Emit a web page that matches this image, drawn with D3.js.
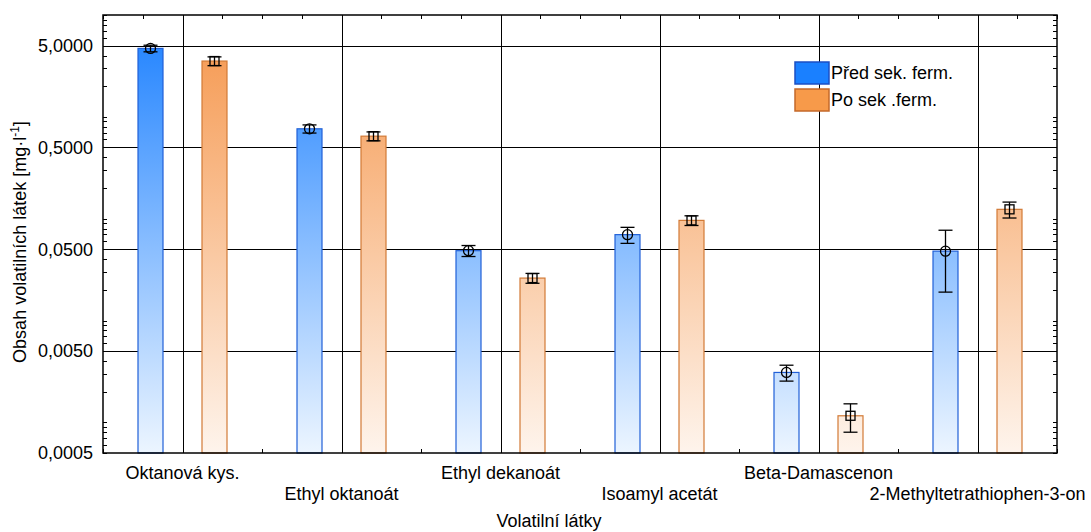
<!DOCTYPE html>
<html>
<head>
<meta charset="utf-8">
<script src="https://cdn.jsdelivr.net/npm/d3@7/dist/d3.min.js"></script>
<style>
  html, body { margin: 0; padding: 0; background: #fff; }
  svg { display: block; font-family: "Liberation Sans", Arial, sans-serif; }
</style>
</head>
<body>
<svg id="chart" width="1091" height="532"></svg>
<script>
// Volatile compounds, before / after secondary fermentation (mg/l, mean ± error)
const categories = [
  "Oktanová kys.", "Ethyl oktanoát", "Ethyl dekanoát",
  "Isoamyl acetát", "Beta-Damascenon", "2-Methyltetrathiophen-3-on"
];
const beforeMeans  = [4.70, 0.763, 0.0485, 0.0697, 0.00309, 0.0480];
const beforeErrors = [0.35, 0.070, 0.0060, 0.0125, 0.00055, 0.0290];
const afterMeans   = [3.53, 0.646, 0.0261, 0.0962, 0.00116, 0.1235];
const afterErrors  = [0.35, 0.065, 0.0029, 0.0105, 0.00036, 0.0220];
const seriesNames  = ["Před sek. ferm.", "Po sek .ferm."];
const yTickValues  = [0.0005, 0.005, 0.05, 0.5, 5];
const yDomain      = [0.0005, 10];

(function () {
const svg = d3.select("#chart");
const pLeft = 103, pRight = 1057, pTop = 15, pBottom = 453;
const fontSize = 18;

const x = d3.scaleLinear().domain([0.5, categories.length + 0.5]).range([pLeft, pRight]);
const y = d3.scaleLog().domain(yDomain).range([pBottom, pTop]);

// vertical gradients spanning the whole plot height
const defs = svg.append("defs");
function gradient(id, c0, c1) {
  const g = defs.append("linearGradient").attr("id", id)
    .attr("gradientUnits", "userSpaceOnUse")
    .attr("x1", 0).attr("x2", 0).attr("y1", pTop).attr("y2", pBottom);
  g.append("stop").attr("offset", 0).attr("stop-color", c0);
  g.append("stop").attr("offset", 1).attr("stop-color", c1);
}
gradient("gBlue", "#1a7fff", "#ecf5ff");
gradient("gOrange", "#f5954a", "#fef4ec");

const series = [
  { name: seriesNames[0], means: beforeMeans, errors: beforeErrors, offset: -32,
    fill: "url(#gBlue)", stroke: "#2160d8", legendFill: "#1a80ff", legendStroke: "#1b4fc4", marker: "circle" },
  { name: seriesNames[1], means: afterMeans, errors: afterErrors, offset: 32,
    fill: "url(#gOrange)", stroke: "#d27a36", legendFill: "#f79a4a", legendStroke: "#c4682a", marker: "square" }
];

// grid lines
const grid = svg.append("g").attr("stroke", "#000").attr("stroke-width", 1).attr("shape-rendering", "crispEdges");
grid.selectAll(".hg").data(yTickValues.slice(1)).join("line")
  .attr("x1", pLeft).attr("x2", pRight)
  .attr("y1", d => Math.round(y(d)) + 0.5).attr("y2", d => Math.round(y(d)) + 0.5);
grid.selectAll(".vg").data(d3.range(1, categories.length + 1)).join("line")
  .attr("y1", pTop).attr("y2", pBottom)
  .attr("x1", d => Math.round(x(d)) + 0.5).attr("x2", d => Math.round(x(d)) + 0.5);

// minor / major tick marks on all four sides, pointing inward
const logTicks = [];
for (let e = -4; e <= 1; e++) {
  for (let k = 1; k <= 9; k++) {
    const v = k * Math.pow(10, e);
    if (v >= yDomain[0] - 1e-12 && v <= yDomain[1] + 1e-12) logTicks.push(v);
  }
}
const tickG = svg.append("g").attr("stroke", "#000").attr("stroke-width", 1).attr("shape-rendering", "crispEdges");
tickG.selectAll(".lt").data(logTicks).join("line")
  .attr("x1", pLeft).attr("x2", pLeft + 4)
  .attr("y1", d => Math.round(y(d)) + 0.5).attr("y2", d => Math.round(y(d)) + 0.5);
tickG.selectAll(".rt").data(logTicks).join("line")
  .attr("x1", pRight - 4).attr("x2", pRight)
  .attr("y1", d => Math.round(y(d)) + 0.5).attr("y2", d => Math.round(y(d)) + 0.5);
const xTicks = d3.range(0.5, categories.length + 0.5 + 0.001, 0.25);
tickG.selectAll(".bt").data(xTicks).join("line")
  .attr("y1", pBottom - 4).attr("y2", pBottom)
  .attr("x1", d => Math.round(x(d)) + 0.5).attr("x2", d => Math.round(x(d)) + 0.5);
tickG.selectAll(".tt").data(xTicks).join("line")
  .attr("y1", pTop).attr("y2", pTop + 4)
  .attr("x1", d => Math.round(x(d)) + 0.5).attr("x2", d => Math.round(x(d)) + 0.5);

// bars
const barW = 25;
series.forEach(s => {
  svg.append("g").selectAll("rect").data(s.means).join("rect")
    .attr("x", (d, i) => x(i + 1) + s.offset - barW / 2)
    .attr("y", d => y(d))
    .attr("width", barW)
    .attr("height", d => pBottom - y(d))
    .attr("fill", s.fill)
    .attr("stroke", s.stroke)
    .attr("stroke-width", 1.2);
});

// error bars with markers at the mean
series.forEach(s => {
  const g = svg.append("g").attr("stroke", "#000").attr("stroke-width", 1.3).attr("fill", "none");
  s.means.forEach((m, i) => {
    const cx = x(i + 1) + s.offset;
    const hi = y(m + s.errors[i]), lo = y(m - s.errors[i]);
    g.append("line").attr("x1", cx).attr("x2", cx).attr("y1", hi).attr("y2", lo);
    g.append("line").attr("x1", cx - 7).attr("x2", cx + 7).attr("y1", hi).attr("y2", hi);
    g.append("line").attr("x1", cx - 7).attr("x2", cx + 7).attr("y1", lo).attr("y2", lo);
    if (s.marker === "circle") {
      g.append("circle").attr("cx", cx).attr("cy", y(m)).attr("r", 5);
    } else {
      g.append("rect").attr("x", cx - 4.5).attr("y", y(m) - 4.5).attr("width", 9).attr("height", 9);
    }
  });
});

// frame
svg.append("rect").attr("x", pLeft).attr("y", pTop)
  .attr("width", pRight - pLeft).attr("height", pBottom - pTop)
  .attr("fill", "none").attr("stroke", "#000").attr("stroke-width", 1.5);

// y tick labels
const fmt = d => d3.format(".4f")(d).replace(".", ",");
svg.append("g").selectAll("text").data(yTickValues).join("text")
  .attr("x", 93).attr("y", d => y(d))
  .attr("dy", "0.35em")
  .attr("text-anchor", "end")
  .attr("font-size", fontSize)
  .attr("fill", "#000")
  .text(fmt);

// category labels in two staggered rows
svg.append("g").selectAll("text").data(categories).join("text")
  .attr("x", (d, i) => x(i + 1))
  .attr("y", (d, i) => i % 2 === 0 ? 479 : 500)
  .attr("text-anchor", "middle")
  .attr("font-size", fontSize)
  .attr("fill", "#000")
  .text(d => d);

// axis titles
svg.append("text")
  .attr("x", 549).attr("y", 527)
  .attr("text-anchor", "middle")
  .attr("font-size", fontSize)
  .text("Volatilní látky");

const yt = svg.append("text")
  .attr("transform", "translate(26,242) rotate(-90)")
  .attr("text-anchor", "middle")
  .attr("font-size", fontSize);
yt.append("tspan").text("Obsah volatilních látek [mg·l");
yt.append("tspan").attr("dy", -7).attr("font-size", 12).text("-1");
yt.append("tspan").attr("dy", 7).text("]");

// legend
const legend = svg.append("g");
series.forEach((s, i) => {
  const ly = 62 + i * 27;
  legend.append("rect").attr("x", 795).attr("y", ly)
    .attr("width", 34).attr("height", 22)
    .attr("fill", s.legendFill).attr("stroke", s.legendStroke).attr("stroke-width", 1.5);
  legend.append("text").attr("x", 831).attr("y", ly + 11)
    .attr("dy", "0.35em").attr("font-size", fontSize).text(s.name);
});
})();
</script>
</body>
</html>
